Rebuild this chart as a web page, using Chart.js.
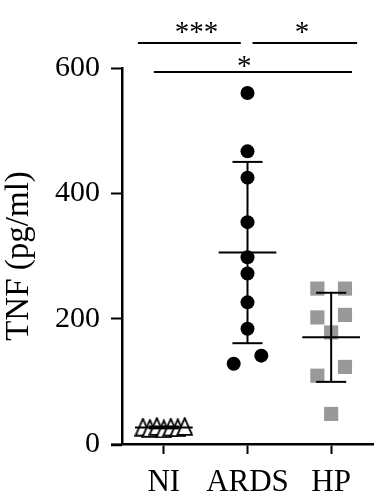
<!DOCTYPE html>
<html>
<head>
<meta charset="utf-8">
<script src="https://cdn.jsdelivr.net/npm/chart.js@4.4.1/dist/chart.umd.min.js"></script>
<style>
  html, body { margin: 0; padding: 0; background: #fff; }
  #wrap { width: 375px; height: 503px; }
</style>
</head>
<body>
<div id="wrap"><canvas id="chart"></canvas></div>
<script>
const GROUPS = ['NI', 'ARDS', 'HP'];
const NI = [27, 25, 28, 24, 27, 26, 28];
const ARDS = [128, 141, 184, 226, 272, 298, 354, 425, 467, 560];
const HP = [48, 109, 123, 178, 202, 206, 248, 248];
const Y_TICKS = [0, 200, 400, 600];
const Y_TITLE = 'TNF (pg/ml)';
const STARS = ['***', '*', '*'];

const SERIF = "'Liberation Serif', 'Times New Roman', serif";

// GraphPad-like spread: values that sit close together share a row
function spread(values, bin) {
    const order = values.map((v, i) => i).sort((a, b) => values[a] - values[b]);
    const xs = new Array(values.length).fill(0);
    let i = 0;
    while (i < order.length) {
        let j = i;
        while (j + 1 < order.length && values[order[j + 1]] - values[order[i]] < bin) j++;
        const grp = order.slice(i, j + 1).sort((a, b) => a - b);
        const n = grp.length;
        const step = n > 1 ? Math.min(0.33, 0.5 / (n - 1)) : 0;
        grp.forEach((idx, k) => { xs[idx] = (k - (n - 1) / 2) * step; });
        i = j + 1;
    }
    return xs;
}

function points(values, g) {
    const dx = spread(values, 20);
    return values.map((v, i) => ({ x: g + dx[i], y: v }));
}

const mean = a => a.reduce((s, v) => s + v, 0) / a.length;
const sd = a => {
    const m = mean(a);
    return Math.sqrt(a.reduce((s, v) => s + (v - m) * (v - m), 0) / (a.length - 1));
};

// tall open triangle like the Prism marker
function triangleMarker() {
    const c = document.createElement('canvas');
    c.width = 17; c.height = 19;
    const g = c.getContext('2d');
    g.beginPath();
    g.moveTo(8.5, 1.2);
    g.lineTo(15.8, 17.8);
    g.lineTo(1.2, 17.8);
    g.closePath();
    g.fillStyle = '#fff';
    g.fill();
    g.lineWidth = 1.8;
    g.strokeStyle = '#000';
    g.stroke();
    return c;
}

const summaryPlugin = {
    id: 'summary',
    afterDatasetsDraw(chart) {
        const { ctx, chartArea, scales: { x, y } } = chart;
        ctx.save();
        ctx.strokeStyle = '#000';
        ctx.lineWidth = 2;
        const line = (x1, y1, x2, y2) => {
            ctx.beginPath(); ctx.moveTo(x1, y1); ctx.lineTo(x2, y2); ctx.stroke();
        };
        [NI, ARDS, HP].forEach((vals, g) => {
            const m = mean(vals), s = sd(vals);
            const cx = x.getPixelForValue(g);
            line(x.getPixelForValue(g - 0.345), y.getPixelForValue(m), x.getPixelForValue(g + 0.345), y.getPixelForValue(m));
            line(cx, y.getPixelForValue(m + s), cx, y.getPixelForValue(m - s));
            [m + s, m - s].forEach(v => {
                line(x.getPixelForValue(g - 0.18), y.getPixelForValue(v), x.getPixelForValue(g + 0.18), y.getPixelForValue(v));
            });
        });

        // x axis runs a little past the y axis
        ctx.lineWidth = 2.5;
        line(chartArea.left - 11, chartArea.bottom + 1, chartArea.left, chartArea.bottom + 1);

        // significance bars
        const bars = [
            { x1: -0.31, x2: 0.92, dy: -25, tx: 0.39, ty: -15.5 },
            { x1: 1.06, x2: 2.31, dy: -25, tx: 1.65, ty: -15.5 },
            { x1: -0.12, x2: 2.25, dy: 4, tx: 0.96, ty: -10.5 },
        ];
        ctx.lineWidth = 2;
        ctx.fillStyle = '#000';
        ctx.font = '29px ' + SERIF;
        ctx.textAlign = 'center';
        ctx.textBaseline = 'alphabetic';
        bars.forEach((b, i) => {
            const yy = chartArea.top + b.dy;
            line(x.getPixelForValue(b.x1), yy, x.getPixelForValue(b.x2), yy);
            const tm = ctx.measureText(STARS[i]);
            const cy = yy + b.ty;
            ctx.fillText(STARS[i], x.getPixelForValue(b.tx), cy + (tm.actualBoundingBoxAscent - tm.actualBoundingBoxDescent) / 2);
        });
        ctx.restore();
    },
};

const axisGrid = {
    drawOnChartArea: false,
    drawTicks: true,
    tickWidth: 2,
    tickColor: '#000',
};

new Chart(document.getElementById('chart'), {
    type: 'scatter',
    data: {
        datasets: [
            {
                label: 'NI',
                data: points(NI, 0),
                pointStyle: triangleMarker(),
            },
            {
                label: 'ARDS',
                data: points(ARDS, 1),
                pointStyle: 'circle',
                pointRadius: 7,
                backgroundColor: '#000',
                borderColor: '#000',
                borderWidth: 0,
            },
            {
                label: 'HP',
                data: points(HP, 2),
                pointStyle: 'rect',
                pointRadius: 10,
                backgroundColor: '#999999',
                borderColor: '#999999',
                borderWidth: 0,
            },
        ],
    },
    options: {
        responsive: true,
        maintainAspectRatio: false,
        animation: false,
        events: [],
        layout: { autoPadding: false, padding: { top: 68, right: 2, left: 0, bottom: 0 } },
        plugins: {
            legend: { display: false },
            tooltip: { enabled: false },
        },
        scales: {
            x: {
                type: 'linear',
                min: -0.5,
                max: 2.5,
                afterBuildTicks: s => { s.ticks = GROUPS.map((_, i) => ({ value: i })); },
                afterFit: s => { s.height = 59; s.paddingLeft = 0; s.paddingRight = 0; },
                ticks: {
                    color: '#000',
                    padding: 10,
                    font: { family: SERIF, size: 31 },
                    callback: v => GROUPS[v],
                },
                grid: { ...axisGrid, tickLength: 10 },
                border: { display: true, color: '#000', width: 2.5 },
            },
            y: {
                min: 0,
                max: 600,
                afterBuildTicks: s => { s.ticks = Y_TICKS.map(v => ({ value: v })); },
                afterFit: s => { s.width = 122; },
                ticks: {
                    color: '#000',
                    padding: 11,
                    font: { family: SERIF, size: 30 },
                },
                grid: { ...axisGrid, tickLength: 11 },
                border: { display: true, color: '#000', width: 2.5 },
                title: {
                    display: true,
                    text: Y_TITLE,
                    color: '#000',
                    padding: 0,
                    font: { family: SERIF, size: 33 },
                },
            },
        },
    },
    plugins: [summaryPlugin],
});
</script>
</body>
</html>
